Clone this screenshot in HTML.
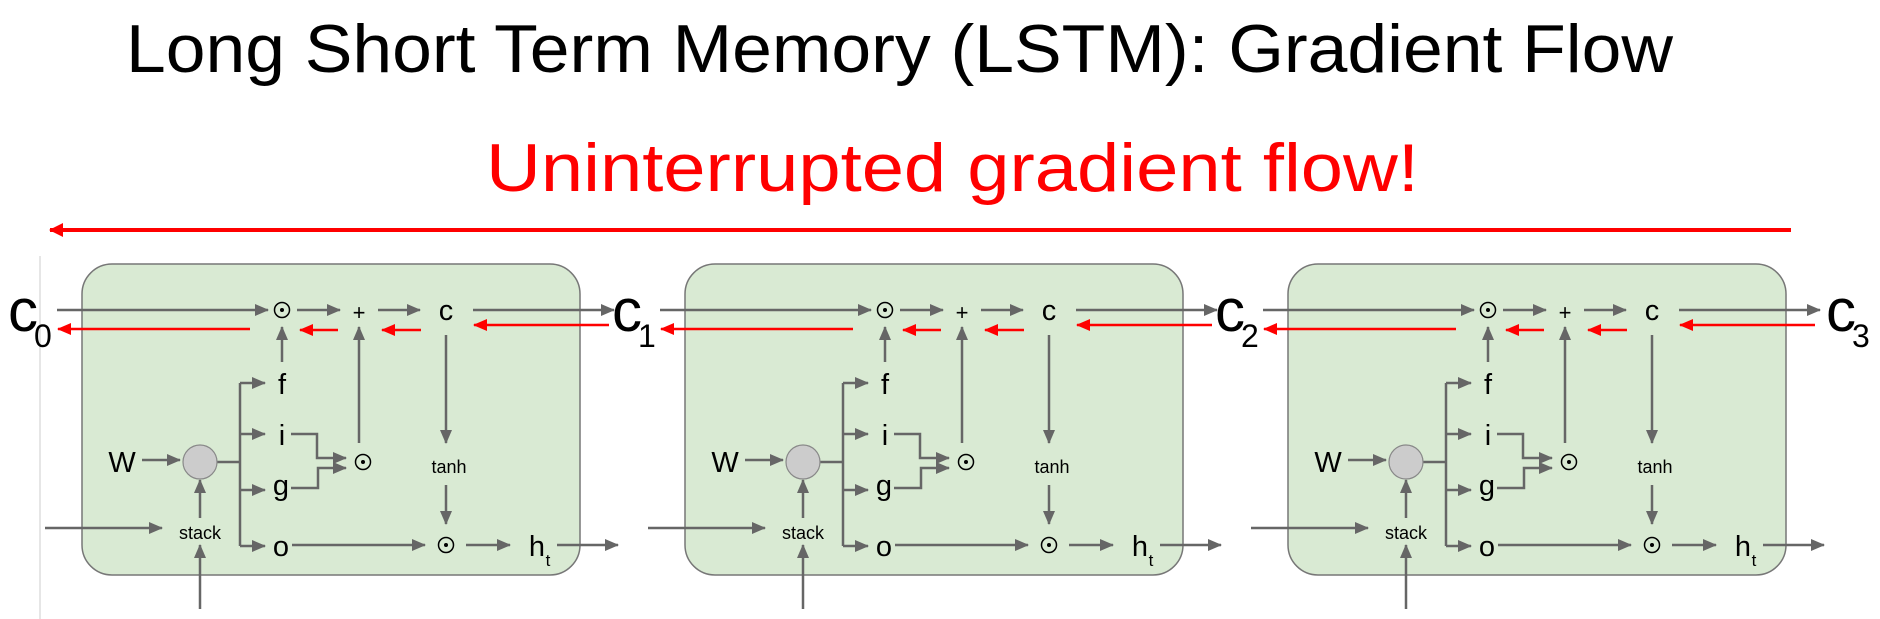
<!DOCTYPE html>
<html><head><meta charset="utf-8"><style>
html,body{margin:0;padding:0;background:#fff;}
svg{display:block;}
text{font-family:"Liberation Sans",sans-serif;}
</style></head><body>
<svg width="1880" height="619" viewBox="0 0 1880 619" xmlns="http://www.w3.org/2000/svg">
<defs>
<marker id="ag" markerUnits="userSpaceOnUse" markerWidth="14" markerHeight="12" refX="13" refY="6" orient="auto"><path d="M0,0 L14,6 L0,12 Z" fill="#666"/></marker>
<marker id="ar" markerUnits="userSpaceOnUse" markerWidth="14" markerHeight="12" refX="13" refY="6" orient="auto"><path d="M0,0 L14,6 L0,12 Z" fill="#f00"/></marker>
<marker id="ar2" markerUnits="userSpaceOnUse" markerWidth="14" markerHeight="14" refX="13" refY="7" orient="auto"><path d="M0,0 L14,7 L0,14 Z" fill="#f00"/></marker>
<g id="cell">
<rect x="82" y="264" width="498" height="311" rx="30" fill="#d9ead3" stroke="#777" stroke-width="1.5"/>
<g stroke="#666" stroke-width="2.5" fill="none">
<line x1="57" y1="310" x2="268" y2="310" marker-end="url(#ag)"/>
<line x1="297" y1="310" x2="340" y2="310" marker-end="url(#ag)"/>
<line x1="378" y1="310" x2="420" y2="310" marker-end="url(#ag)"/>
<line x1="473" y1="310" x2="614" y2="310" marker-end="url(#ag)"/>
<line x1="282" y1="362" x2="282" y2="327" marker-end="url(#ag)"/>
<line x1="359" y1="443" x2="359" y2="327" marker-end="url(#ag)"/>
<line x1="446" y1="335" x2="446" y2="443" marker-end="url(#ag)"/>
<line x1="446" y1="485" x2="446" y2="524" marker-end="url(#ag)"/>
<polyline points="217,462 240,462"/>
<polyline points="240,383 240,546"/>
<line x1="240" y1="383" x2="265" y2="383" marker-end="url(#ag)"/>
<line x1="240" y1="434" x2="265" y2="434" marker-end="url(#ag)"/>
<line x1="240" y1="490" x2="265" y2="490" marker-end="url(#ag)"/>
<line x1="240" y1="546" x2="265" y2="546" marker-end="url(#ag)"/>
<polyline points="291,434 317,434 317,458 346,458" marker-end="url(#ag)"/>
<polyline points="291,488 318,488 318,468 346,468" marker-end="url(#ag)"/>
<line x1="142" y1="460" x2="180" y2="460" marker-end="url(#ag)"/>
<line x1="200" y1="518" x2="200" y2="480" marker-end="url(#ag)"/>
<line x1="45" y1="528" x2="162" y2="528" marker-end="url(#ag)"/>
<line x1="200" y1="609" x2="200" y2="545" marker-end="url(#ag)"/>
<line x1="292" y1="545" x2="425" y2="545" marker-end="url(#ag)"/>
<line x1="466" y1="545" x2="510" y2="545" marker-end="url(#ag)"/>
<line x1="557" y1="545" x2="618" y2="545" marker-end="url(#ag)"/>
</g>
<g stroke="#f00" stroke-width="2.5">
<line x1="250" y1="329" x2="58" y2="329" marker-end="url(#ar)"/>
<line x1="338" y1="330" x2="300" y2="330" marker-end="url(#ar)"/>
<line x1="421" y1="330" x2="382" y2="330" marker-end="url(#ar)"/>
<line x1="609" y1="325" x2="474" y2="325" marker-end="url(#ar)"/>
</g>
<circle cx="200" cy="462" r="17" fill="#ccc" stroke="#888" stroke-width="1.2"/>
<g fill="none" stroke="#000" stroke-width="1.5">
<circle cx="282" cy="310" r="7.5"/><circle cx="363" cy="462" r="7.5"/><circle cx="446" cy="545" r="7.5"/>
</g>
<g fill="#000"><circle cx="282" cy="310" r="2"/><circle cx="363" cy="462" r="2"/><circle cx="446" cy="545" r="2"/></g>
<g font-size="29" fill="#000" text-anchor="middle">
<text x="359" y="320" font-size="22">+</text>
<text x="446" y="320">c</text>
<text x="282" y="394">f</text>
<text x="282" y="445">i</text>
<text x="281" y="495">g</text>
<text x="281" y="556">o</text>
<text x="122" y="472">W</text>
<text x="537" y="556">h</text>
<text x="548" y="566" font-size="17">t</text>
<text x="449" y="473" font-size="18">tanh</text>
<text x="200" y="539" font-size="18">stack</text>
</g>
</g>
</defs>
<text x="126" y="72" font-size="68" fill="#000" textLength="1547" lengthAdjust="spacingAndGlyphs">Long Short Term Memory (LSTM): Gradient Flow</text>
<text x="486" y="191" font-size="68" fill="#f00" textLength="933" lengthAdjust="spacingAndGlyphs">Uninterrupted gradient flow!</text>
<line x1="1791" y1="230" x2="50" y2="230" stroke="#f00" stroke-width="4" marker-end="url(#ar2)"/>
<line x1="40" y1="256" x2="40" y2="619" stroke="#ccc" stroke-width="1"/>
<use href="#cell"/>
<use href="#cell" x="603"/>
<use href="#cell" x="1206"/>
<g fill="#000" font-size="60">
<text x="8" y="331">c</text><text x="34" y="347" font-size="32">0</text>
<text x="612" y="331">c</text><text x="638" y="347" font-size="32">1</text>
<text x="1215" y="331">c</text><text x="1241" y="347" font-size="32">2</text>
<text x="1826" y="331">c</text><text x="1852" y="347" font-size="32">3</text>
</g>
</svg>
</body></html>
